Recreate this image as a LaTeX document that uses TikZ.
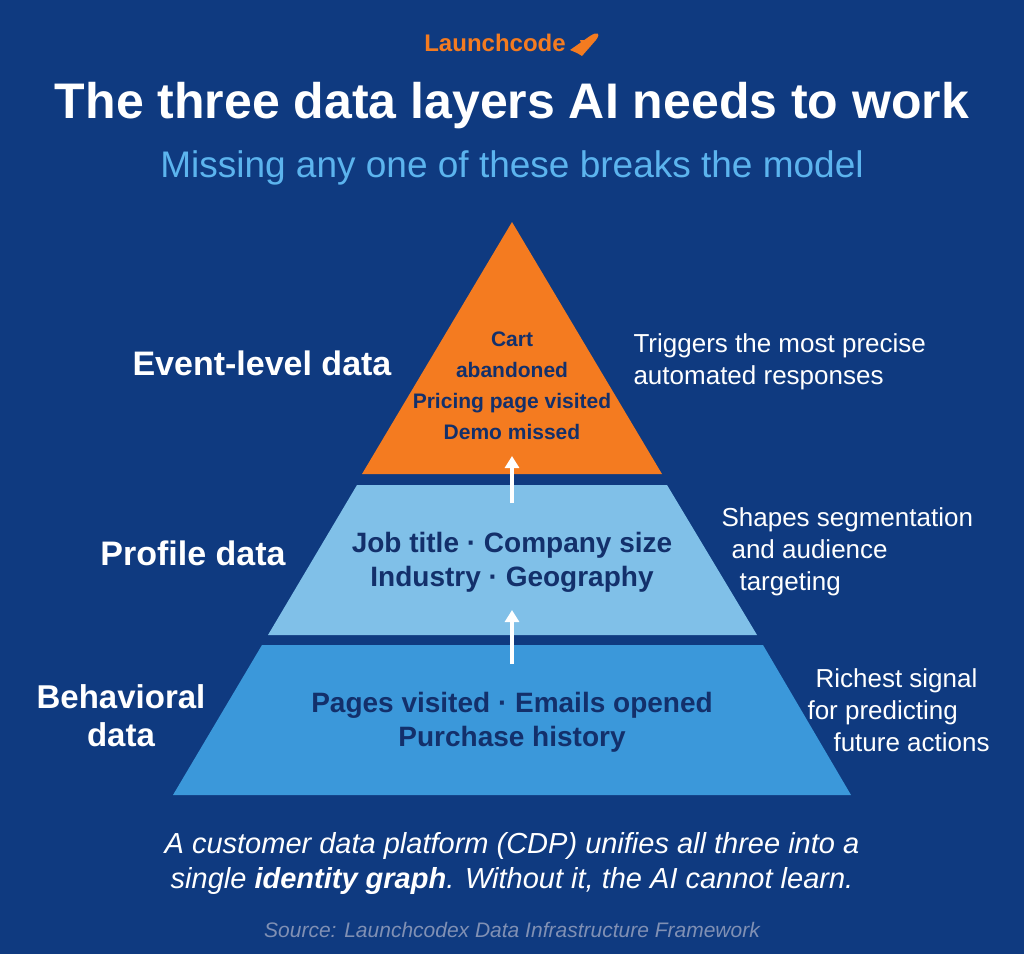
\documentclass[tikz,border=0pt]{standalone}
\usepackage{fontspec}
\setmainfont{Liberation Sans}
\definecolor{bgblue}{HTML}{0F3A80}
\definecolor{layerorange}{HTML}{F47B20}
\definecolor{layerlight}{HTML}{80C0E8}
\definecolor{layermid}{HTML}{3B98DA}
\definecolor{inktext}{HTML}{13306B}
\definecolor{subblue}{HTML}{5CB4EE}
\definecolor{srcgray}{HTML}{8090B4}

\begin{document}
\begin{tikzpicture}[x=1pt,y=-1pt,
	sidelabel/.style={text=white,font=\bfseries\fontsize{34}{38}\selectfont,align=center},
	note/.style={text=white,font=\fontsize{26}{32}\selectfont,align=left,anchor=west},
	layertext/.style={text=inktext,font=\bfseries\fontsize{28}{34}\selectfont,align=center},
	uparrow/.style={white,line width=4pt,-{Triangle[length=12pt,width=14pt]}}]
	\usetikzlibrary{arrows.meta}
	\fill[bgblue] (0,0) rectangle (1024,954);
	% header
	\node (logo) at (495,43) {\textcolor{layerorange}{\bfseries\fontsize{24}{26}\selectfont Launchcode}};
	\fill[layerorange] (570,50) -- (590,36) .. controls (598,31) and (601,33) .. (596,40) -- (582,56) -- (577,53) -- cycle;
	\fill[layerorange] (580,40) -- (588,40) -- (582,46) -- cycle;
	\node (title) at (512,106) {\textcolor{white}{\bfseries\fontsize{50}{54}\selectfont The three data layers AI needs to work}};
	\node (subtitle) at (512,168) {\textcolor{subblue}{\fontsize{37}{40}\selectfont Missing any one of these breaks the model}};
	% layers
	\fill[layermid] (262,645) -- (763,645) -- (851,795) -- (173,795) -- cycle;
	\fill[layerlight] (357,485) -- (667,485) -- (757,635) -- (268,635) -- cycle;
	\fill[layerorange] (512,222) -- (662,474) -- (362,474) -- cycle;
	% layer contents
	\node[layertext,font=\bfseries\fontsize{21}{31}\selectfont] (eventtxt) at (512,386) {Cart\\abandoned\\Pricing page visited\\Demo missed};
	\node[layertext] (profiletxt) at (512,562) {Job title · Company size\\Industry · Geography};
	\node[layertext] (behavtxt) at (512,722) {Pages visited · Emails opened\\Purchase history};
	\coordinate (a1s) at (512,503);
	\coordinate (a1e) at (512,456);
	\coordinate (a2s) at (512,664);
	\coordinate (a2e) at (512,610);
	\draw[uparrow] (a1s) -- (a1e);
	\draw[uparrow] (a2s) -- (a2e);
	% side labels
	\node[sidelabel] (eventlbl) at (262,363) {Event-level data};
	\node[sidelabel] (profilelbl) at (193,553) {Profile data};
	\node[sidelabel,font=\bfseries\fontsize{33}{38}\selectfont] (behavlbl) at (121,716) {Behavioral\\data};
	\node[note] (eventnote) at (630,362) {Triggers the most precise\\automated responses};
	\node[note] (profilenote) at (718,552) {Shapes segmentation\\\hspace{10pt}and audience\\\hspace{18pt}targeting};
	\node[note] (behavnote) at (804,710) {\hspace{8pt}Richest signal\\for predicting\\\hspace{26pt}future actions};
	% footer
	\node[text=white,font=\itshape\fontsize{29}{35}\selectfont,align=center] (footer) at (512,863) {A customer data platform (CDP) unifies all three into a\\single \textbf{identity graph}. Without it, the AI cannot learn.};
	\node[text=srcgray,font=\itshape\fontsize{21}{24}\selectfont] (source) at (512,930) {Source: Launchcodex Data Infrastructure Framework};
\end{tikzpicture}
\end{document}
